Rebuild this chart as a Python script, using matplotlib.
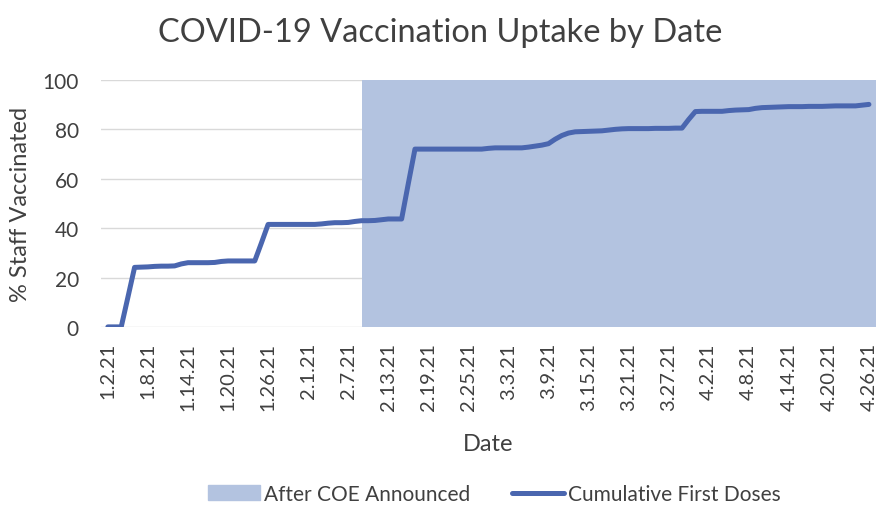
import numpy as np
import matplotlib
matplotlib.use("Agg")
import matplotlib.pyplot as plt
from matplotlib.patches import Patch
from matplotlib.lines import Line2D

plt.rcParams['font.family'] = ['Lato', 'DejaVu Sans']

# daily cumulative % of staff with first dose, 1.2.21 .. 4.26.21
pct_vaccinated = [
    0, 0, 0, 12, 24.1, 24.2, 24.3, 24.5, 24.6, 24.6,
    24.7, 25.5, 26.0, 26.0, 26.0, 26.0, 26.1, 26.5, 26.7, 26.7,
    26.7, 26.7, 26.7, 34.0, 41.5, 41.5, 41.5, 41.5, 41.5, 41.5,
    41.5, 41.5, 41.7, 42.0, 42.2, 42.2, 42.3, 42.7, 43.0, 43.0,
    43.1, 43.4, 43.7, 43.7, 43.7, 58.0, 72.0, 72.0, 72.0, 72.0,
    72.0, 72.0, 72.0, 72.0, 72.0, 72.0, 72.0, 72.3, 72.5, 72.5,
    72.5, 72.5, 72.5, 72.8, 73.2, 73.6, 74.2, 76.0, 77.5, 78.5,
    79.0, 79.1, 79.2, 79.3, 79.4, 79.7, 80.0, 80.2, 80.3, 80.3,
    80.3, 80.3, 80.4, 80.4, 80.4, 80.5, 80.5, 84.0, 87.2, 87.3,
    87.3, 87.3, 87.3, 87.6, 87.8, 87.9, 88.0, 88.5, 88.8, 88.9,
    89.0, 89.1, 89.2, 89.2, 89.2, 89.3, 89.3, 89.3, 89.4, 89.5,
    89.5, 89.5, 89.5, 89.8, 90.1,
]
day_index = np.arange(len(pct_vaccinated))

tick_labels = ["1.2.21", "1.8.21", "1.14.21", "1.20.21", "1.26.21", "2.1.21",
               "2.7.21", "2.13.21", "2.19.21", "2.25.21", "3.3.21", "3.9.21",
               "3.15.21", "3.21.21", "3.27.21", "4.2.21", "4.8.21", "4.14.21",
               "4.20.21", "4.26.21"]
tick_step = 6

coe_start = 38  # 2.9.21, day COE announced

line_col = "#4A66AF"
shade_col = "#B3C3E0"
text_col = "#404040"

fig = plt.figure(figsize=(8.8, 5.06), dpi=100)
ax = fig.add_axes([0.115, 0.352, 0.88, 0.488])

x_lo, x_hi = -1, len(pct_vaccinated)
ax.axvspan(coe_start, x_hi, color=shade_col, lw=0, zorder=1)
ax.plot(day_index, pct_vaccinated, color=line_col, lw=3.6,
        solid_capstyle="round", solid_joinstyle="round", zorder=3)

ax.set_xlim(x_lo, x_hi)
ax.set_ylim(0, 100)
ax.set_yticks(np.arange(0, 101, 20))
ax.set_xticks(day_index[::tick_step])
ax.set_xticklabels(tick_labels, rotation=90)
ax.tick_params(axis='y', length=0, labelsize=15, colors=text_col, pad=16)
ax.tick_params(axis='x', length=0, labelsize=14.5, colors=text_col, pad=11)
ax.yaxis.grid(True, color="#D9D9D9", lw=1, zorder=0)
ax.set_axisbelow(True)
for s in ax.spines.values():
    s.set_visible(False)

ax.set_ylabel("% Staff Vaccinated", fontsize=17, color=text_col, labelpad=8)
ax.set_xlabel("Date", fontsize=17, color=text_col, labelpad=16)
fig.suptitle("COVID-19 Vaccination Uptake by Date", fontsize=23.5,
             color=text_col, y=0.965)

handles = [Patch(color=shade_col, label="After COE Announced"),
           Line2D([], [], color=line_col, lw=3.6, solid_capstyle="round",
                  label="Cumulative First Doses")]
fig.legend(handles=handles, loc="lower center", ncol=2, frameon=False,
           fontsize=15, labelcolor=text_col, bbox_to_anchor=(0.562, -0.035),
           handlelength=2.5, handletextpad=0.2, columnspacing=2.0)

fig.savefig("out.png", dpi=100)
